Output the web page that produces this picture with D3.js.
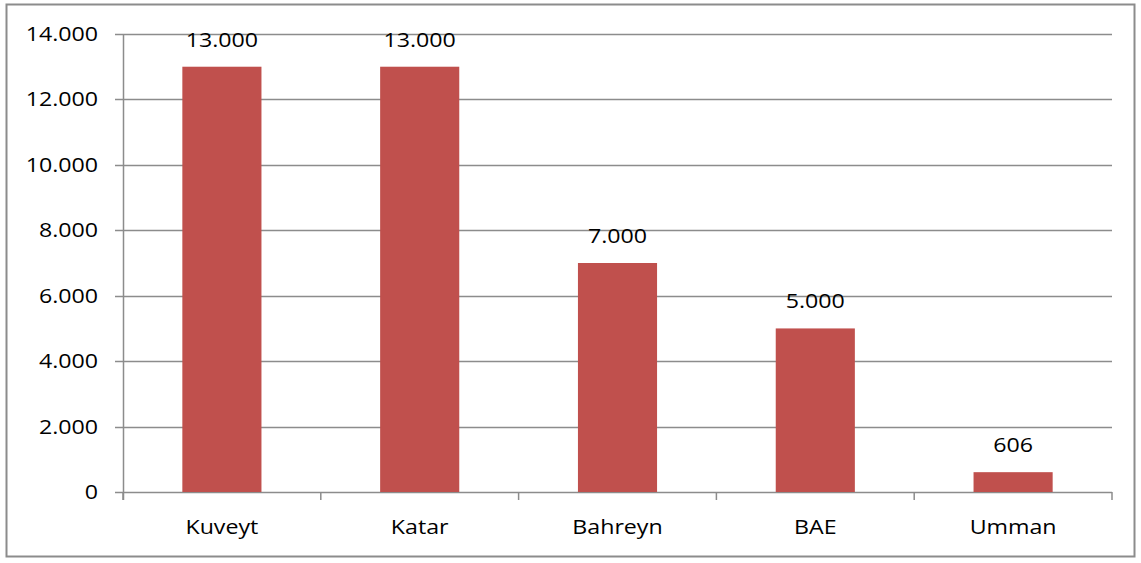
<!DOCTYPE html>
<html>
<head>
<meta charset="utf-8">
<script src="https://d3js.org/d3.v7.min.js"></script>
<style>
  body { margin: 0; background: #fff; }
  svg text { font-family: "Open Sans", sans-serif; fill: #000; font-size: 20px; }
</style>
</head>
<body>
<div id="plot"></div>
<script>
// chart data
const countries = ["Kuveyt", "Katar", "Bahreyn", "BAE", "Umman"];
const values = [13000, 13000, 7000, 5000, 606];
const yTicks = [0, 2000, 4000, 6000, 8000, 10000, 12000, 14000];

const W = 1141, H = 563;
const margin = { top: 34, right: 29, bottom: 71, left: 123 };
const width = W - margin.left - margin.right,
      height = H - margin.top - margin.bottom;
const stretch = 1.16; // the reference text is a bit wide

const fmt = v => d3.format(",")(v).replace(/,/g, ".");

const svg = d3.select("#plot").append("svg")
  .attr("width", W).attr("height", H);

// outer chart border
svg.append("rect")
  .attr("x", 6.5).attr("y", 4.5)
  .attr("width", 1128).attr("height", 552)
  .attr("fill", "#fff")
  .attr("stroke", "#8c8c8c")
  .attr("stroke-width", 2);

const g = svg.append("g")
  .attr("transform", `translate(${margin.left},${margin.top})`);

const x = d3.scaleBand().domain(countries).range([0, width]).paddingInner(0.6).paddingOuter(0.3);
const y = d3.scaleLinear().domain([0, 14000]).range([height, 0]);

// helper: text placed at (px,py) and stretched horizontally
function label(sel, px, py, anchor, txt) {
  sel.append("g")
    .attr("transform", d => `translate(${px(d)},${py(d)}) scale(${stretch},1)`)
    .append("text")
    .attr("dy", "0.35em")
    .attr("text-anchor", anchor)
    .text(txt);
}

// gridlines
g.selectAll(".grid")
  .data(yTicks)
  .enter().append("line")
  .attr("x1", -8).attr("x2", width)
  .attr("y1", d => Math.round(y(d)) + 0.5)
  .attr("y2", d => Math.round(y(d)) + 0.5)
  .attr("stroke", "#8c8c8c")
  .attr("stroke-width", 1.5);

// y axis line
g.append("line")
  .attr("x1", 0.5).attr("x2", 0.5)
  .attr("y1", 0).attr("y2", height + 8)
  .attr("stroke", "#8c8c8c").attr("stroke-width", 1.5);

// x axis ticks at band boundaries
const step = width / countries.length;
g.selectAll(".xtick")
  .data(d3.range(countries.length + 1))
  .enter().append("line")
  .attr("x1", d => d * step).attr("x2", d => d * step)
  .attr("y1", height).attr("y2", height + 8)
  .attr("stroke", "#8c8c8c").attr("stroke-width", 1.5);

// y tick labels
const ylab = g.append("g").selectAll("g").data(yTicks).enter();
label(ylab, d => -25, d => y(d), "end", d => fmt(d));

// bars
g.selectAll(".bar")
  .data(values)
  .enter().append("rect")
  .attr("x", (d, i) => x(countries[i]))
  .attr("y", d => y(d))
  .attr("width", x.bandwidth())
  .attr("height", d => height - y(d))
  .attr("fill", "#c0504d");

// value labels
const vlab = g.append("g").selectAll("g").data(values.map((v, i) => ({ v, c: countries[i] }))).enter();
label(vlab, d => x(d.c) + x.bandwidth() / 2, d => y(d.v) - 27, "middle", d => fmt(d.v));

// category labels
const xlab = g.append("g").selectAll("g").data(countries).enter();
label(xlab, d => x(d) + x.bandwidth() / 2, d => height + 35, "middle", d => d);
</script>
</body>
</html>
